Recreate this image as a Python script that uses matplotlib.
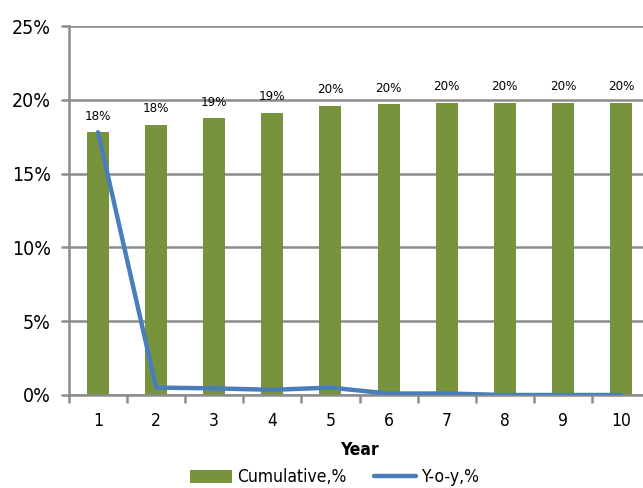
import matplotlib
matplotlib.use("Agg")
import matplotlib.pyplot as plt
from matplotlib.ticker import FuncFormatter

plt.rcParams['font.family'] = ['DejaVu Sans']
plt.rcParams['font.stretch'] = 'condensed'

years = [1, 2, 3, 4, 5, 6, 7, 8, 9, 10]
cumulative = [17.8, 18.3, 18.75, 19.1, 19.6, 19.7, 19.8, 19.8, 19.8, 19.8]
yoy = [17.8, 0.5, 0.45, 0.35, 0.5, 0.1, 0.1, 0.0, 0.0, 0.0]
ytick_vals = [0, 5, 10, 15, 20, 25]

bar_color = '#77933C'
line_color = '#4A7EBB'
grid_color = '#8C8C8C'

fig = plt.figure(figsize=(6.43, 4.88), dpi=100)
ax = fig.add_axes([0.1073, 0.1906, 0.9036, 0.7561])

bars = ax.bar(years, cumulative, width=0.38, color=bar_color, zorder=2,
              label='Cumulative,%')
line, = ax.plot(years, yoy, color=line_color, lw=3.2, solid_capstyle='round',
                solid_joinstyle='miter', zorder=3, label='Y-o-y,%')

for x, v in zip(years, cumulative):
    ax.annotate(f'{v:.0f}%', (x, v), xytext=(0, 7), textcoords='offset points',
                ha='center', va='bottom', fontsize=9.5, color='#000000', zorder=4)

ax.set_xlim(0.5, 10.5)
ax.set_ylim(0, 25)
ax.set_yticks(ytick_vals)
ax.yaxis.set_major_formatter(FuncFormatter(lambda v, p: f'{v:.0f}%'))
ax.set_xticks(years)
ax.set_xticks([y + 0.5 for y in [0] + years], minor=True)
ax.tick_params(axis='x', which='major', length=0, pad=12, labelsize=12.5)
ax.tick_params(axis='x', which='minor', length=6, width=1.8, color=grid_color)
ax.tick_params(axis='y', length=6, width=1.8, color=grid_color, labelsize=14, pad=7)

ax.grid(axis='y', color=grid_color, lw=1.8, zorder=1)
ax.set_axisbelow(True)
for side in ['top', 'right']:
    ax.spines[side].set_visible(False)
for side in ['left', 'bottom']:
    ax.spines[side].set_color(grid_color)
    ax.spines[side].set_linewidth(1.8)

ax.set_xlabel('Year', fontsize=12.5, fontweight='bold', labelpad=8)

fig.legend([bars, line], ['Cumulative,%', 'Y-o-y,%'], loc='center',
           bbox_to_anchor=(0.52, 0.022), ncol=2, frameon=False,
           fontsize=12.5, handlelength=2.4, handleheight=0.75, columnspacing=1.6,
           handletextpad=0.3)

fig.savefig('out.png', dpi=100)
